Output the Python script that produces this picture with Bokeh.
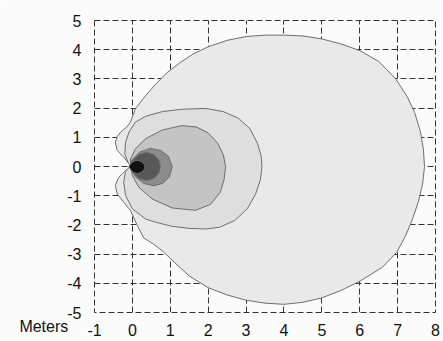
from bokeh.plotting import figure
from bokeh.models import FixedTicker
from bokeh.embed import file_html
from bokeh.resources import INLINE

x_ticks = [-1, 0, 1, 2, 3, 4, 5, 6, 7, 8]
y_ticks = [-5, -4, -3, -2, -1, 0, 1, 2, 3, 4, 5]
unit_label = "Meters"

# contour outlines (meters), outermost first
outer_x = [-0.05, -0.09, -0.23, -0.40, -0.45, -0.40, -0.31, -0.15, -0.05, 0.08, 0.35, 0.6, 0.9, 1.25,
           1.6, 2.0, 2.5, 3.0, 3.5, 4.0, 4.5, 5.0, 5.5, 6.0, 6.5, 6.95, 7.25, 7.45, 7.6, 7.68, 7.71,
           7.66, 7.55, 7.38, 7.2, 6.98, 6.6, 6.0, 5.5, 5.0, 4.5, 4.0, 3.5, 3.0, 2.5, 2.0, 1.5, 1.15,
           0.8, 0.55, 0.3, 0.13, -0.05, -0.23, -0.40, -0.45, -0.36, -0.18, -0.05]
outer_y = [0.05, 0.09, 0.32, 0.55, 0.83, 1.02, 1.18, 1.35, 1.52, 1.98, 2.43, 2.8, 3.2, 3.55,
           3.85, 4.1, 4.32, 4.45, 4.5, 4.5, 4.47, 4.37, 4.2, 3.97, 3.6, 3.0, 2.4, 1.85, 1.2, 0.6, 0.0,
           -0.6, -1.2, -1.85, -2.4, -2.93, -3.45, -3.93, -4.25, -4.5, -4.65, -4.72, -4.68, -4.58, -4.4,
           -4.15, -3.75, -3.33, -2.9, -2.65, -2.45, -2.02, -1.51, -1.22, -0.94, -0.65, -0.37, -0.14, -0.05]

c5_x = [-0.05, -0.1, -0.2, -0.18, -0.09, 0.08, 0.35, 0.79, 1.3, 1.93, 2.4, 2.8, 3.1, 3.3, 3.4, 3.42,
        3.38, 3.25, 3.03, 2.7, 2.3, 1.93, 1.5, 1.05, 0.65, 0.35, 0.0, -0.18, -0.23, -0.18]
c5_y = [0.03, 0.1, 0.43, 0.83, 1.18, 1.52, 1.72, 1.88, 1.96, 1.99, 1.88, 1.65, 1.3, 0.8, 0.35, 0.0,
        -0.45, -0.95, -1.45, -1.85, -2.08, -2.14, -2.12, -2.05, -1.92, -1.8, -1.45, -0.99, -0.54, -0.17]

c4_x = [-0.05, -0.05, 0.08, 0.35, 0.79, 1.31, 1.7, 2.0, 2.25, 2.4, 2.46, 2.42, 2.32, 2.06, 1.66,
        1.05, 0.52, 0.17, 0.0]
c4_y = [0.0, 0.26, 0.61, 0.95, 1.25, 1.40, 1.35, 1.15, 0.8, 0.4, 0.0, -0.45, -0.88, -1.3, -1.5,
        -1.42, -1.11, -0.71, -0.31]

c3_x = [-0.07, 0.0, 0.2, 0.48, 0.75, 0.95, 1.05, 0.98, 0.8, 0.56, 0.3, 0.08, -0.03]
c3_y = [0.0, 0.25, 0.5, 0.62, 0.55, 0.35, 0.0, -0.35, -0.58, -0.66, -0.58, -0.35, -0.12]

c2_x = [-0.07, 0.02, 0.18, 0.38, 0.58, 0.7, 0.74, 0.7, 0.58, 0.38, 0.18, 0.02]
c2_y = [0.0, 0.22, 0.42, 0.49, 0.4, 0.22, 0.0, -0.22, -0.4, -0.49, -0.42, -0.22]

c1_x = [-0.09, -0.03, 0.05, 0.15, 0.25, 0.31, 0.33, 0.31, 0.25, 0.14, 0.04, -0.04]
c1_y = [0.0, 0.12, 0.19, 0.21, 0.16, 0.08, 0.0, -0.1, -0.19, -0.25, -0.21, -0.12]

levels = [(outer_x, outer_y, "#e9e9e9"), (c5_x, c5_y, "#dedede"), (c4_x, c4_y, "#c4c4c4"),
          (c3_x, c3_y, "#8c8c8c"), (c2_x, c2_y, "#585858"), (c1_x, c1_y, "#111111")]

p = figure(width=443, height=341, x_range=(-1, 8), y_range=(-5, 5),
           output_backend="svg", toolbar_location=None,
           min_border_left=94, min_border_right=8, min_border_top=20, min_border_bottom=29,
           background_fill_color="#fbfbfb", border_fill_color="#fbfbfb")

for xs, ys, col in levels:
    p.patch(xs, ys, fill_color=col, line_color="#6e6e6e", line_width=1)

font = "Liberation Sans"
for ax, ticks in ((p.xaxis[0], x_ticks), (p.yaxis[0], y_ticks)):
    ax.ticker = FixedTicker(ticks=ticks)
    ax.major_label_overrides = {t: str(t) for t in ticks}
    ax.axis_line_color = None
    ax.major_tick_line_color = None
    ax.minor_tick_line_color = None
    ax.major_label_text_font = font
    ax.major_label_text_font_size = "16px"
    ax.major_label_text_color = "#111111"
p.xaxis.major_label_standoff = 5
p.yaxis.major_label_standoff = 7

# the "Meters" unit caption sits at the lower-left corner, beside the x tick labels
p.yaxis.axis_label = "\n" + unit_label
p.yaxis.axis_label_orientation = "horizontal"
p.yaxis.axis_label_align = "start"
p.yaxis.axis_label_text_line_height = 1.7
p.yaxis.axis_label_standoff = -4
p.yaxis.axis_label_text_font = font
p.yaxis.axis_label_text_font_size = "16px"
p.yaxis.axis_label_text_font_style = "normal"
p.yaxis.axis_label_text_color = "#111111"

p.xgrid.ticker = FixedTicker(ticks=x_ticks)
p.ygrid.ticker = FixedTicker(ticks=y_ticks)
for g in (p.xgrid[0], p.ygrid[0]):
    g.grid_line_color = "#333333"
    g.grid_line_dash = "6 3"
    g.grid_line_width = 1
    g.grid_line_alpha = 1.0
p.outline_line_color = "#333333"
p.outline_line_dash = "6 3"

open("out.html", "w").write(file_html(p, INLINE))
